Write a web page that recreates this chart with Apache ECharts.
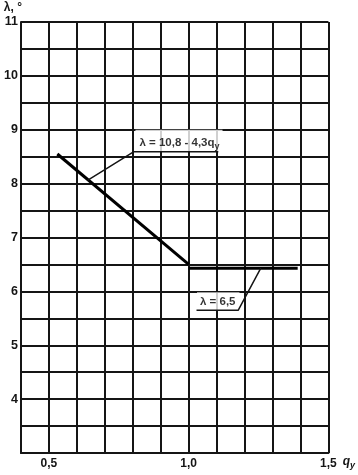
<!DOCTYPE html>
<html><head><meta charset="utf-8">
<script src="https://cdn.jsdelivr.net/npm/echarts@6/dist/echarts.min.js"></script>
<style>html,body{margin:0;padding:0;background:#fff}#c{width:358px;height:475px}</style>
</head><body><div id="c"></div>
<script>
// Data
const xLabelValues = [0.5, 1.0, 1.5];
const yLabelValues = [4, 5, 6, 7, 8, 9, 10, 11];
const slopeX = [0.53, 1.0];
const slopeY = [8.55, 6.5];
const flatX = [1.0, 1.39];
const flatY = [6.43, 6.43];
// annotation leaders (data coords)
const leader1X = [0.638, 0.804, 1.106];
const leader1Y = [8.06, 8.593, 8.593];
const leader2X = [1.258, 1.177, 1.028];
const leader2Y = [6.43, 5.648, 5.648];
const label1 = ['λ = 10,8 - 4,3q', 'y'];
const label2 = 'λ = 6,5';

const font = 'Liberation Sans, Arial, sans-serif';
const ink = '#151515';
const chart = echarts.init(document.getElementById('c'));
const near = (v, arr) => arr.some(a => Math.abs(a - v) < 1e-6);
chart.setOption({
  animation: false,
  grid: {left: 21, right: 27, top: 22, bottom: 22},
  xAxis: {
    type: 'value', min: 0.4, max: 1.5, interval: 0.1,
    name: '{i|q}{s|y}', nameLocation: 'end', nameGap: 6,
    nameTextStyle: {
      padding: [18, 0, 0, 0],
      rich: {
        i: {fontFamily: font, fontSize: 12, fontStyle: 'italic', fontWeight: 'bold', color: ink},
        s: {fontFamily: font, fontSize: 9, fontStyle: 'italic', fontWeight: 'bold', color: ink, padding: [8, 0, 0, 0]}
      }
    },
    axisLine: {show: true, lineStyle: {color: ink, width: 2}},
    axisTick: {show: false},
    axisLabel: {
      margin: 5, fontFamily: font, fontSize: 12, fontWeight: 'bold', color: ink,
      formatter: v => { const r = Math.round(v * 10) / 10; return near(r, xLabelValues) ? r.toFixed(1).replace('.', ',') : ''; }
    },
    splitLine: {show: true, lineStyle: {color: ink, width: 2}}
  },
  yAxis: {
    type: 'value', min: 3, max: 11, interval: 0.5,
    name: 'λ, °', nameLocation: 'end', nameGap: 8,
    nameTextStyle: {fontFamily: font, fontSize: 12, fontWeight: 'bold', color: ink, align: 'right', padding: [0, -1, 0, 0]},
    axisLine: {show: true, lineStyle: {color: ink, width: 2}},
    axisTick: {show: false},
    axisLabel: {
      margin: 3, fontFamily: font, fontSize: 12.5, fontWeight: 'bold', color: ink,
      formatter: v => near(v, yLabelValues) ? String(v) : ''
    },
    splitLine: {show: true, lineStyle: {color: ink, width: 2}}
  },
  series: [
    {type: 'line', z: 4, data: slopeX.map((x, i) => [x, slopeY[i]]), symbol: 'none', lineStyle: {color: '#000', width: 3}},
    {type: 'line', z: 4, data: flatX.map((x, i) => [x, flatY[i]]), symbol: 'none', lineStyle: {color: '#000', width: 3}},
    {type: 'line', z: 5, data: leader1X.map((x, i) => [x, leader1Y[i]]), symbol: 'none', lineStyle: {color: ink, width: 1.5}},
    {type: 'line', z: 5, data: leader2X.map((x, i) => [x, leader2Y[i]]), symbol: 'none', lineStyle: {color: ink, width: 1.5}},
    {type: 'scatter', symbolSize: 1, itemStyle: {color: 'rgba(0,0,0,0)'}, silent: true, z: 3,
     label: {show: true},
     data: [{value: [leader1X[1], leader1Y[1]], label: {
        show: true, position: 'right', distance: 0, offset: [1, -11],
        backgroundColor: '#fff', padding: [5, 3, 1, 4],
        formatter: '{a|' + label1[0] + '}{s|' + label1[1] + '}',
        rich: {
          a: {fontFamily: font, fontSize: 11.5, fontWeight: 'bold', color: '#000'},
          s: {fontFamily: font, fontSize: 9, fontWeight: 'bold', color: '#000', padding: [7, 0, 0, 0]}
        }}},
       {value: [leader2X[2], leader2Y[2]], label: {
        show: true, position: 'right', distance: 0, offset: [0, -9],
        backgroundColor: '#fff', padding: [5, 4, 1, 3],
        formatter: label2, fontFamily: font, fontSize: 11.5, fontWeight: 'bold', color: '#000'}}]}
  ]
});
</script></body></html>
